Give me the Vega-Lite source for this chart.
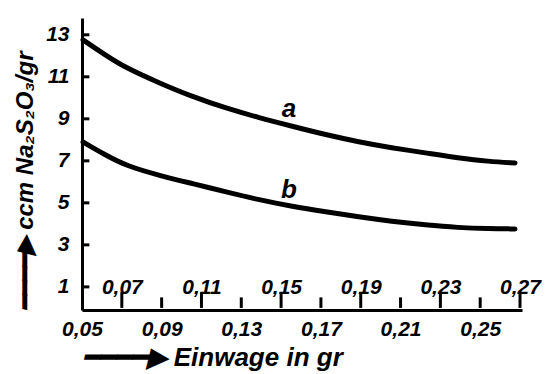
{
  "$schema": "https://vega.github.io/schema/vega-lite/v6.json",
  "width": 440,
  "height": 292,
  "autosize": "none",
  "padding": {"left": 82, "top": 18, "right": 23, "bottom": 64},
  "background": "white",
  "config": {
    "view": {"stroke": null},
    "font": "Liberation Sans",
    "axis": {
      "grid": false,
      "domainColor": "black",
      "domainWidth": 3,
      "labelColor": "black",
      "titleColor": "black",
      "labelFont": "Liberation Sans",
      "labelFontStyle": "italic",
      "labelFontWeight": "bold",
      "labelFontSize": 21,
      "titleFont": "Liberation Sans",
      "titleFontSize": 24,
      "titleFontStyle": "italic",
      "titleFontWeight": "bold"
    }
  },
  "resolve": {"axis": {"x": "independent", "y": "independent"}},
  "layer": [
    {
      "data": {"values": [{"w": 0.07}, {"w": 0.11}, {"w": 0.15}, {"w": 0.19}, {"w": 0.23}, {"w": 0.27}]},
      "mark": {"type": "rule", "color": "#000000", "strokeWidth": 3, "opacity": 1},
      "encoding": {
        "x": {"field": "w", "type": "quantitative", "scale": {"domain": [0.05, 0.271], "nice": false, "zero": false}, "axis": null},
        "y": {"datum": 0, "type": "quantitative", "scale": {"domain": [-0.1, 13.8], "nice": false, "zero": false}, "axis": null},
        "y2": {"datum": 0.75}
      }
    },
    {
      "data": {"values": [{"w": 0.09}, {"w": 0.13}, {"w": 0.17}, {"w": 0.21}, {"w": 0.25}]},
      "mark": {"type": "rule", "color": "#000000", "strokeWidth": 3, "opacity": 1},
      "encoding": {
        "x": {"field": "w", "type": "quantitative", "axis": null},
        "y": {"datum": 0, "type": "quantitative", "axis": null},
        "y2": {"datum": 0.5}
      }
    },
    {
      "data": {"values": [{"v": 1}, {"v": 3}, {"v": 5}, {"v": 7}, {"v": 9}, {"v": 11}, {"v": 13}]},
      "mark": {"type": "rule", "color": "#000000", "strokeWidth": 3, "opacity": 1},
      "encoding": {
        "y": {"field": "v", "type": "quantitative", "axis": null},
        "x": {"datum": 0.0505, "type": "quantitative", "axis": null},
        "x2": {"datum": 0.0537}
      }
    },
    {
      "data": {
        "values": [
          {"w": 0.0505, "v": 12.76, "s": "a"},
          {"w": 0.0615, "v": 12.05, "s": "a"},
          {"w": 0.0725, "v": 11.4, "s": "a"},
          {"w": 0.089, "v": 10.7, "s": "a"},
          {"w": 0.1055, "v": 10.05, "s": "a"},
          {"w": 0.1225, "v": 9.5, "s": "a"},
          {"w": 0.139, "v": 9.05, "s": "a"},
          {"w": 0.1555, "v": 8.65, "s": "a"},
          {"w": 0.1725, "v": 8.24, "s": "a"},
          {"w": 0.189, "v": 7.9, "s": "a"},
          {"w": 0.2055, "v": 7.62, "s": "a"},
          {"w": 0.2225, "v": 7.38, "s": "a"},
          {"w": 0.239, "v": 7.14, "s": "a"},
          {"w": 0.254, "v": 6.97, "s": "a"},
          {"w": 0.2675, "v": 6.9, "s": "a"},
          {"w": 0.0505, "v": 7.9, "s": "b"},
          {"w": 0.0615, "v": 7.29, "s": "b"},
          {"w": 0.0725, "v": 6.75, "s": "b"},
          {"w": 0.089, "v": 6.3, "s": "b"},
          {"w": 0.1055, "v": 5.92, "s": "b"},
          {"w": 0.1225, "v": 5.52, "s": "b"},
          {"w": 0.139, "v": 5.14, "s": "b"},
          {"w": 0.1555, "v": 4.83, "s": "b"},
          {"w": 0.1725, "v": 4.57, "s": "b"},
          {"w": 0.189, "v": 4.33, "s": "b"},
          {"w": 0.2055, "v": 4.12, "s": "b"},
          {"w": 0.2225, "v": 3.95, "s": "b"},
          {"w": 0.239, "v": 3.82, "s": "b"},
          {"w": 0.254, "v": 3.77, "s": "b"},
          {"w": 0.2675, "v": 3.76, "s": "b"}
        ]
      },
      "mark": {"type": "line", "interpolate": "basis", "strokeWidth": 5, "color": "black", "strokeCap": "round"},
      "encoding": {
        "x": {
          "field": "w",
          "type": "quantitative",
          "axis": {
            "orient": "bottom",
            "values": [0.05, 0.09, 0.13, 0.17, 0.21, 0.25],
            "labelExpr": "replace(format(datum.value, '.2f'), '.', ',')",
            "ticks": false,
            "labelBaseline": "top",
            "labelFlush": false,
            "labelOverlap": false,
            "labelPadding": 8,
            "title": "━━━━▶ Einwage in gr",
            "titleFontSize": 26,
            "titleAnchor": "start",
            "titleAlign": "left",
            "titlePadding": 5
          }
        },
        "y": {
          "field": "v",
          "type": "quantitative",
          "axis": {
            "orient": "left",
            "values": [1, 3, 5, 7, 9, 11, 13],
            "ticks": false,
            "labelPadding": 13,
            "title": "━━━━▶  ccm Na₂S₂O₃/gr",
            "titleAnchor": "start",
            "titleAlign": "left",
            "titlePadding": 8
          }
        },
        "detail": {"field": "s"}
      }
    },
    {
      "data": {
        "values": [
          {"w": 0.154, "v": 9.45, "t": "a"},
          {"w": 0.154, "v": 5.6, "t": "b"}
        ]
      },
      "mark": {"type": "text", "font": "Liberation Sans", "fontSize": 26, "fontStyle": "italic", "fontWeight": "bold", "color": "black"},
      "encoding": {
        "x": {
          "field": "w",
          "type": "quantitative",
          "axis": {
            "orient": "top",
            "offset": -292,
            "domain": false,
            "ticks": false,
            "values": [0.07, 0.11, 0.15, 0.19, 0.23, 0.27],
            "labelExpr": "replace(format(datum.value, '.2f'), '.', ',')",
            "labelFlush": false,
            "labelOverlap": false,
            "labelPadding": 13,
            "title": null
          }
        },
        "y": {"field": "v", "type": "quantitative", "axis": null},
        "text": {"field": "t"}
      }
    }
  ]
}
